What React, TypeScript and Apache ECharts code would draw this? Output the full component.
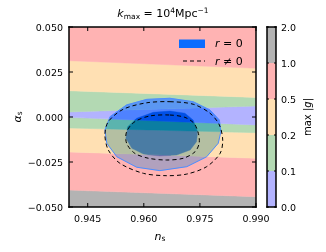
import React, { useEffect, useRef } from 'react';
import * as echarts from 'echarts';

// axes
const X0 = 0.94;
const X1 = 0.99;
const Y0 = -0.05;
const Y1 = 0.05;
const xTicks = [0.945, 0.96, 0.975, 0.99];
const yTicks = [-0.05, -0.025, 0, 0.025, 0.05];
const cbTicks = [0, 1, 2, 3, 4, 5];
const cbLabels = ['0.0', '0.1', '0.2', '0.5', '1.0', '2.0'];

// level colours (bottom to top of colour bar)
const levelColors = ['#b3b3ff', '#b3d9b3', '#ffe0b3', '#ffb3b3', '#b3b3b3'];

// band boundaries of max|g| at n_s = 0.94 (left) and n_s = 0.99 (right)
const bandEdgesLeft = [-0.05, -0.0406, -0.0194, -0.0061, -0.0002, 0.0028, 0.0146, 0.0313, 0.05];
const bandEdgesRight = [-0.05, -0.0443, -0.0229, -0.0087, -0.0044, 0.0061, 0.0109, 0.0271, 0.05];
const bandLevels = [4, 3, 2, 1, 0, 1, 2, 3];

// look of the r = 0 contour regions on each band (styles)
const outerOnBand = ['#8a8aa0', '#b1a1be', '#b4bfa2', '#5bb4ae', '#4f82ff', '#5b97f2', '#6aa0ee', '#b0a0c0'];
const innerOnBand = ['#505080', '#6c6cae', '#4a7ca4', '#0b7ea2', '#0050e6', '#0050e6', '#0050e6', '#6c6cae'];

// contours (n_s, alpha_s)
const outerR0: number[][] = [
  [0.967, 0.0104], [0.9732, 0.0085], [0.9777, 0.0039], [0.9802, -0.0017], [0.9806, -0.0082],
  [0.9799, -0.0146], [0.9768, -0.0221], [0.9715, -0.0276], [0.9643, -0.0298], [0.9581, -0.0279],
  [0.9528, -0.0221], [0.9501, -0.0146], [0.9496, -0.0072], [0.951, 0.0002], [0.9554, 0.0067],
  [0.9608, 0.0098],
];
const innerR0: number[][] = [
  [0.967, 0.0033], [0.971, 0.0021], [0.9732, -0.0017], [0.9744, -0.0082], [0.9741, -0.0137],
  [0.9724, -0.0183], [0.9688, -0.0211], [0.9643, -0.0217], [0.9599, -0.0206], [0.9568, -0.0174],
  [0.9552, -0.0118], [0.9557, -0.0054], [0.9581, -0.0007], [0.9625, 0.0026],
];
const outerR: number[][] = [
  [0.967, 0.0085], [0.9732, 0.0071], [0.9777, 0.0021], [0.9802, -0.0044], [0.9811, -0.0128],
  [0.9804, -0.0202], [0.9768, -0.0276], [0.9715, -0.0317], [0.9661, -0.0326], [0.9599, -0.0313],
  [0.9536, -0.0257], [0.9505, -0.0183], [0.9496, -0.01], [0.9505, -0.0026], [0.9545, 0.0043],
  [0.9608, 0.0079],
];
const innerR: number[][] = [
  [0.967, 0.0011], [0.971, -0.0002], [0.9734, -0.0035], [0.9746, -0.0091], [0.9748, -0.0146],
  [0.9737, -0.0193], [0.9706, -0.0229], [0.9661, -0.0239], [0.9612, -0.0229], [0.9576, -0.0202],
  [0.9554, -0.0146], [0.9554, -0.0082], [0.9576, -0.0026], [0.9617, 0.0006],
];

const FONT = 'DejaVu Sans';
const MAIN = { left: 69, top: 27, width: 187, height: 180 };
const CBAR = { left: 267, top: 27, width: 9, height: 180 };

function clipHalf(poly: number[][], a: number[], b: number[], keep: number): number[][] {
  const side = (p: number[]) => keep * ((b[0] - a[0]) * (p[1] - a[1]) - (b[1] - a[1]) * (p[0] - a[0]));
  const out: number[][] = [];
  const n = poly.length;
  for (let i = 0; i < n; i++) {
    const cur = poly[i];
    const prev = poly[(i + n - 1) % n];
    const sc = side(cur);
    const sp = side(prev);
    const inter = () => {
      const t = sp / (sp - sc);
      return [prev[0] + t * (cur[0] - prev[0]), prev[1] + t * (cur[1] - prev[1])];
    };
    if (sc >= 0) {
      if (sp < 0) out.push(inter());
      out.push(cur);
    } else if (sp >= 0) {
      out.push(inter());
    }
  }
  return out;
}

function polySeries(pts: number[][], style: any, smooth = 0) {
  return {
    type: 'custom',
    xAxisIndex: 0,
    yAxisIndex: 0,
    silent: true,
    clip: true,
    data: [pts[0]],
    renderItem: (_p: any, api: any) => ({
      type: 'polygon',
      shape: { points: pts.map((p) => api.coord(p)), smooth },
      style,
    }),
  };
}

function regionOnBands(pts: number[][], colors: string[]) {
  return {
    type: 'custom', xAxisIndex: 0, yAxisIndex: 0, silent: true, clip: true, z: 2,
    data: bandLevels.map((_lv, i) => [X0, bandEdgesLeft[i]]),
    renderItem: (params: any, api: any) => {
      const b = params.dataIndex;
      let poly = pts.map((p) => api.coord(p));
      poly = clipHalf(poly, api.coord([X0, bandEdgesLeft[b]]), api.coord([X1, bandEdgesRight[b]]), -1);
      if (poly.length > 2) poly = clipHalf(poly, api.coord([X0, bandEdgesLeft[b + 1]]), api.coord([X1, bandEdgesRight[b + 1]]), 1);
      if (poly.length < 3) return null;
      return { type: 'polygon', shape: { points: poly }, style: { fill: colors[b], stroke: colors[b], lineWidth: 0.4 } };
    },
  };
}

// frame (filled bars) around a grid box
function frameBars(g: { left: number; top: number; width: number; height: number }, w: number) {
  const L = g.left - w / 2;
  const T = g.top - w / 2;
  const R = g.left + g.width - w / 2;
  const B = g.top + g.height - w / 2;
  const st = { fill: '#000' };
  return [
    { type: 'rect', z: 30, silent: true, shape: { x: L, y: T, width: g.width + w, height: w }, style: st },
    { type: 'rect', z: 30, silent: true, shape: { x: L, y: B, width: g.width + w, height: w }, style: st },
    { type: 'rect', z: 30, silent: true, shape: { x: L, y: T, width: w, height: g.height + w }, style: st },
    { type: 'rect', z: 30, silent: true, shape: { x: R, y: T, width: w, height: g.height + w }, style: st },
  ];
}

// inward ticks, through the axes' own scales
function tickSeries(xi: number, yi: number, xmin: number, xmax: number, ymin: number, ymax: number, xt: number[], yt: number[], len: number) {
  return {
    type: 'custom', xAxisIndex: xi, yAxisIndex: yi, silent: true, clip: false, z: 10,
    data: [[xmin, ymin]],
    renderItem: (_p: any, api: any) => {
      const bl = api.coord([xmin, ymin]);
      const tr = api.coord([xmax, ymax]);
      const st = { fill: '#000' };
      const children: any[] = [];
      xt.forEach((v) => {
        const x = api.coord([v, ymin])[0];
        children.push({ type: 'rect', shape: { x: x - 0.5, y: bl[1] - len, width: 1, height: len }, style: st });
        children.push({ type: 'rect', shape: { x: x - 0.5, y: tr[1], width: 1, height: len }, style: st });
      });
      yt.forEach((v) => {
        const y = api.coord([xmin, v])[1];
        children.push({ type: 'rect', shape: { x: bl[0], y: y - 0.5, width: len, height: 1 }, style: st });
        children.push({ type: 'rect', shape: { x: tr[0] - len, y: y - 0.5, width: len, height: 1 }, style: st });
      });
      return { type: 'group', children };
    },
  };
}

export default function App() {
  const ref = useRef<HTMLDivElement>(null);
  useEffect(() => {
    const chart = echarts.init(ref.current!, null, { renderer: 'svg', width: 326, height: 252 });
    const option: any = {
      animation: false,
      textStyle: { fontFamily: FONT },
      grid: [
        { ...MAIN, show: false },
        { ...CBAR, show: false },
      ],
      xAxis: [
        {
          type: 'value', gridIndex: 0, min: X0, max: X1, position: 'bottom',
          axisLine: { show: false, onZero: false },
          axisTick: { show: false },
          axisLabel: { customValues: xTicks, formatter: (v: number) => v.toFixed(3), fontSize: 9.5, color: '#000', margin: 6, fontFamily: FONT },
          splitLine: { show: false },
        },
        { type: 'value', gridIndex: 1, min: 0, max: 1, show: false },
      ],
      yAxis: [
        {
          type: 'value', gridIndex: 0, min: Y0, max: Y1, interval: 0.025, position: 'left',
          axisLine: { show: false, onZero: false },
          axisTick: { show: false },
          axisLabel: {
            formatter: (v: number) => (v < -1e-9 ? '\u2212' : '') + Math.abs(v).toFixed(3),
            fontSize: 9.5, color: '#000', margin: 6, fontFamily: FONT,
          },
          splitLine: { show: false },
        },
        {
          type: 'value', gridIndex: 1, min: 0, max: 5, interval: 1, position: 'right',
          axisLine: { show: false, onZero: false },
          axisTick: { show: false },
          axisLabel: { formatter: (v: number) => cbLabels[Math.round(v)], fontSize: 9.5, color: '#000', margin: 5, fontFamily: FONT },
          splitLine: { show: false },
        },
      ],
      series: [
        {
          type: 'custom', xAxisIndex: 0, yAxisIndex: 0, silent: true, clip: true, z: 1,
          data: bandLevels.map((_lv, i) => [X0, bandEdgesLeft[i]]),
          renderItem: (params: any, api: any) => {
            const i = params.dataIndex;
            const pts = [
              api.coord([X0, bandEdgesLeft[i]]), api.coord([X1, bandEdgesRight[i]]),
              api.coord([X1, bandEdgesRight[i + 1]]), api.coord([X0, bandEdgesLeft[i + 1]]),
            ];
            return { type: 'polygon', shape: { points: pts }, style: { fill: levelColors[bandLevels[i]], stroke: levelColors[bandLevels[i]], lineWidth: 0.5 } };
          },
        },
        regionOnBands(outerR0, outerOnBand),
        regionOnBands(innerR0, innerOnBand),
        { ...polySeries(outerR0, { fill: 'none', stroke: '#4d8dff', lineWidth: 1, lineDash: [1000, 0.1] }), z: 3 },
        { ...polySeries(outerR, { fill: 'none', stroke: '#000', lineWidth: 1, lineDash: [4, 3] }, 0.3), z: 3 },
        { ...polySeries(innerR, { fill: 'none', stroke: '#000', lineWidth: 1, lineDash: [4, 3] }, 0.3), z: 3 },
        {
          type: 'custom', xAxisIndex: 1, yAxisIndex: 1, silent: true, z: 1,
          data: levelColors.map((_c, i) => [0, i]),
          renderItem: (params: any, api: any) => {
            const i = params.dataIndex;
            const a = api.coord([0, i + 1]);
            const b = api.coord([1, i]);
            return { type: 'rect', shape: { x: a[0], y: a[1], width: b[0] - a[0], height: b[1] - a[1] }, style: { fill: levelColors[i] } };
          },
        },
        tickSeries(0, 0, X0, X1, Y0, Y1, xTicks, yTicks, 4),
        tickSeries(1, 1, 0, 1, 0, 5, [], cbTicks, 2),
      ],
      graphic: [
        ...frameBars(MAIN, 1.5),
        ...frameBars(CBAR, 1.5),
        {
          type: 'text', z: 20, left: 'center', top: 6,
          style: {
            text: '{k|k}{sub|max}{n| = 10}{sup|4}{n|Mpc}{sup|\u22121}',
            fill: '#000', fontFamily: FONT,
            rich: {
              k: { fontSize: 11, fontStyle: 'italic', fontFamily: FONT },
              n: { fontSize: 11, fontFamily: FONT },
              sub: { fontSize: 7.5, fontFamily: FONT, padding: [5, 0, 0, 0] },
              sup: { fontSize: 7.5, fontFamily: FONT, padding: [0, 0, 7, 0] },
            },
          },
        },
        { type: 'rect', z: 20, shape: { x: 179, y: 39.5, width: 26, height: 8.5 }, style: { fill: '#0a6cff' } },
        {
          type: 'text', z: 20, x: 215, y: 43.5,
          style: {
            text: '{i|r}{n| = 0}', verticalAlign: 'middle', fill: '#000',
            rich: { i: { fontSize: 11, fontStyle: 'italic', fontFamily: FONT }, n: { fontSize: 11, fontFamily: FONT } },
          },
        },
        { type: 'line', z: 20, shape: { x1: 183, y1: 61, x2: 205, y2: 61 }, style: { stroke: '#000', lineWidth: 1, lineDash: [4, 3] } },
        {
          type: 'text', z: 20, x: 215, y: 61,
          style: {
            text: '{i|r}{n| \u2260 0}', verticalAlign: 'middle', fill: '#000',
            rich: { i: { fontSize: 11, fontStyle: 'italic', fontFamily: FONT }, n: { fontSize: 11, fontFamily: FONT } },
          },
        },
        {
          type: 'text', z: 20, x: 160, y: 236,
          style: {
            text: '{i|n}{sub|s}', align: 'center', verticalAlign: 'middle', fill: '#000',
            rich: { i: { fontSize: 11, fontStyle: 'italic', fontFamily: FONT }, sub: { fontSize: 7.5, fontFamily: FONT, padding: [5, 0, 0, 0] } },
          },
        },
        {
          type: 'text', z: 20, x: 17, y: 117, rotation: Math.PI / 2,
          style: {
            text: '{i|\u03b1}{sub|s}', align: 'center', verticalAlign: 'middle', fill: '#000',
            rich: { i: { fontSize: 11, fontStyle: 'italic', fontFamily: FONT }, sub: { fontSize: 7.5, fontFamily: FONT, padding: [5, 0, 0, 0] } },
          },
        },
        {
          type: 'text', z: 20, x: 307, y: 117, rotation: Math.PI / 2,
          style: {
            text: '{n|max |}{i|g}{n||}', align: 'center', verticalAlign: 'middle', fill: '#000',
            rich: { i: { fontSize: 10, fontStyle: 'italic', fontFamily: FONT }, n: { fontSize: 10, fontFamily: FONT } },
          },
        },
      ],
    };
    chart.setOption(option);
    return () => chart.dispose();
  }, []);
  return <div ref={ref} style={{ position: 'fixed', left: 0, top: 0, width: 326, height: 252 }} />;
}
